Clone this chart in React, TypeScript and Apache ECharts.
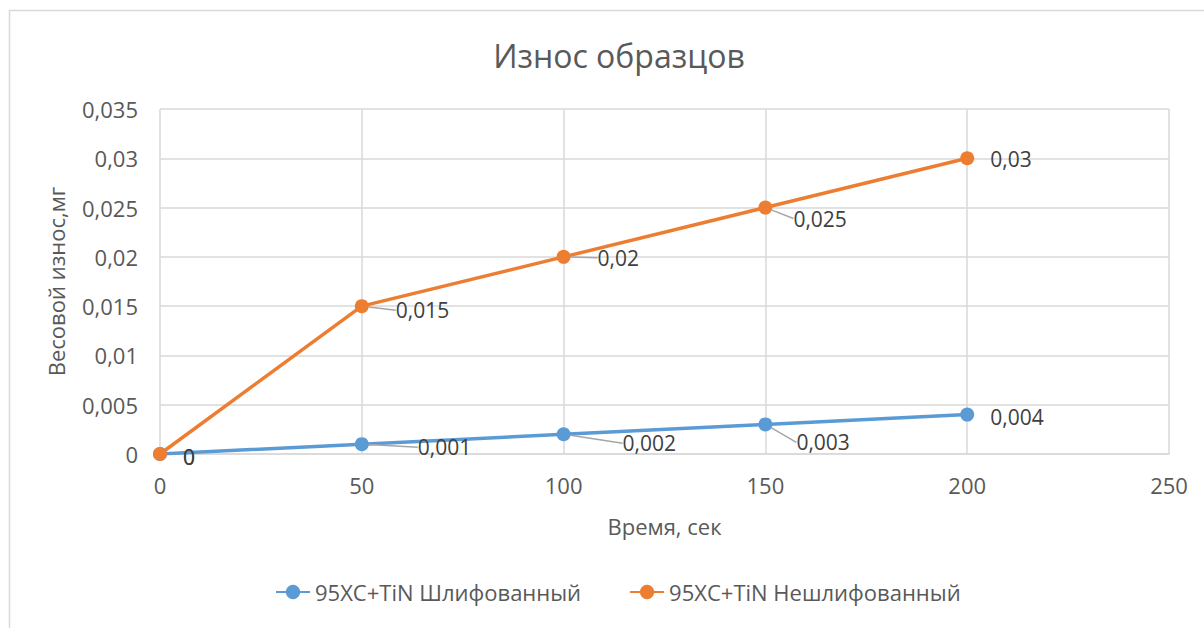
import React, { useEffect, useRef } from "react";
import * as echarts from "echarts";

const title = "Износ образцов";
const xName = "Время, сек";
const yName = "Весовой износ,мг";
const seriesNames = ["95XC+TiN Шлифованный", "95XC+TiN Нешлифованный"];
const times = [0, 50, 100, 150, 200];
const polished = [0, 0.001, 0.002, 0.003, 0.004];
const unpolished = [0, 0.015, 0.02, 0.025, 0.03];
const colors = ["#5B9BD5", "#ED7D31"];

// label shifts (dx, dy, leader line shown) relative to default right placement
const shiftsPolished = [
  [0, 3, 0],
  [33, 3, 1],
  [36, 9, 1],
  [8, 18, 1],
  [0, 2, 0],
];
const shiftsUnpolished = [
  [0, 3, 0],
  [11, 4, 1],
  [11, 1, 1],
  [5, 11, 1],
  [0, 1, 0],
];

const fmt = (v: number) => String(+v.toFixed(4)).replace(".", ",");
const FONT = "Open Sans";

export default function App() {
  const ref = useRef<HTMLDivElement>(null);
  useEffect(() => {
    const chart = echarts.init(ref.current!, null, { renderer: "svg" });
    const mk = (i: number, vals: number[], shifts: number[][]) => ({
      name: seriesNames[i],
      type: "line",
      data: times.map((t, k) => ({
        value: [t, vals[k]],
        labelLine: { show: shifts[k][2] === 1 },
      })),
      symbol: "circle",
      symbolSize: 14,
      color: colors[i],
      lineStyle: { width: 3.5, color: colors[i] },
      itemStyle: { color: colors[i] },
      label: {
        show: true,
        position: "right",
        distance: 16,
        formatter: (p: any) => fmt(p.value[1]),
        fontFamily: FONT,
        fontSize: 21,
        color: "#404040",
      },
      labelLine: { show: true, lineStyle: { color: "#a6a6a6", width: 1.5 } },
      labelLayout: (p: any) => {
        const s = shifts[p.dataIndex];
        return { dx: s[0], dy: s[1] };
      },
    });
    chart.setOption({
      animation: false,
      backgroundColor: "#ffffff",
      title: {
        text: title,
        left: 614,
        textAlign: "center",
        top: 34,
        textStyle: { fontFamily: FONT, fontSize: 32, fontWeight: "normal", color: "#595959" },
      },
      graphic: [
        {
          type: "rect",
          shape: { x: 9.5, y: 10.5, width: 1300, height: 700 },
          style: { fill: "none", stroke: "#d9d9d9", lineWidth: 1.5 },
          silent: true,
        },
      ],
      legend: {
        left: 270,
        top: 576,
        itemWidth: 34,
        itemHeight: 18,
        itemGap: 48,
        textStyle: { fontFamily: FONT, fontSize: 22, color: "#595959" },
        data: seriesNames,
      },
      grid: { left: 160, right: 35, top: 109, bottom: 174, containLabel: false },
      xAxis: {
        type: "value",
        min: 0,
        max: 250,
        interval: 50,
        name: xName,
        nameLocation: "middle",
        nameGap: 61,
        nameTextStyle: { fontFamily: FONT, fontSize: 22, color: "#595959" },
        axisLine: { show: true, lineStyle: { color: "#d9d9d9", width: 1.5 } },
        axisTick: { show: false },
        axisLabel: { fontFamily: FONT, fontSize: 22, color: "#595959", margin: 20 },
        splitLine: { show: true, lineStyle: { color: "#d9d9d9", width: 1.5 } },
      },
      yAxis: {
        type: "value",
        min: 0,
        max: 0.035,
        interval: 0.005,
        name: yName,
        nameLocation: "middle",
        nameGap: 93,
        nameRotate: 90,
        nameTextStyle: { fontFamily: FONT, fontSize: 22, color: "#595959" },
        axisLine: { show: false },
        axisTick: { show: false },
        axisLabel: {
          fontFamily: FONT,
          fontSize: 22,
          color: "#595959",
          margin: 22,
          formatter: (v: number) => fmt(v),
        },
        splitLine: { show: true, lineStyle: { color: "#d9d9d9", width: 1.5 } },
      },
      series: [mk(0, polished, shiftsPolished), mk(1, unpolished, shiftsUnpolished)],
    });
    return () => chart.dispose();
  }, []);
  return (
    <div
      ref={ref}
      style={{ position: "fixed", left: 0, top: 0, width: 1204, height: 628 }}
    />
  );
}
